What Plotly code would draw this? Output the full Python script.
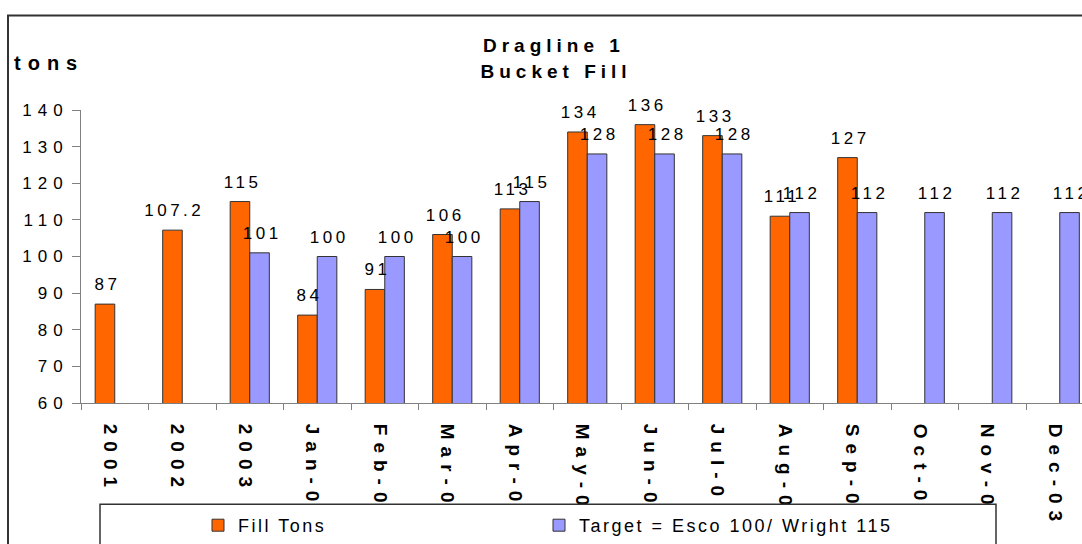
import plotly.graph_objects as go

# Dragline 1 bucket fill, annual averages then monthly values for 2003
categories = ["2001", "2002", "2003", "Jan-03", "Feb-03", "Mar-03", "Apr-03",
              "May-03", "Jun-03", "Jul-03", "Aug-03", "Sep-03", "Oct-03",
              "Nov-03", "Dec-03"]
fill_tons = [87, 107.2, 115, 84, 91, 106, 113, 134, 136, 133, 111, 127,
             None, None, None]
target = [None, None, 101, 100, 100, 100, 115, 128, 128, 128, 112, 112,
          112, 112, 112]
y_ticks = [60, 70, 80, 90, 100, 110, 120, 130, 140]

FONT = "Liberation Sans, Arial, sans-serif"
ORANGE = "#FF6600"
LAVENDER = "#9999FF"
OUTLINE = "#333333"

W, H = 1082, 544
L, R, T, B = 81, 0, 110, 136
PW, PH = W - L - R, H - T - B


def px_x(p):
    return (p - L) / PW


def px_y(p):
    return (H - B - p) / PH


fig = go.Figure()
fig.add_trace(go.Bar(name="Fill Tons", x=categories, y=fill_tons,
                     marker=dict(color=ORANGE, line=dict(color=OUTLINE, width=1))))
fig.add_trace(go.Bar(name="Target = Esco 100/ Wright 115", x=categories, y=target,
                     marker=dict(color=LAVENDER, line=dict(color=OUTLINE, width=1))))

# value labels above each bar (x given as category index)
annotations = []
half = 9.75
for series, dx in ((fill_tons, -half), (target, half)):
    for i, v in enumerate(series):
        if v is None:
            continue
        annotations.append(dict(x=i, y=v, xref="x", yref="y", text=f"{v:g}",
                                showarrow=False, xanchor="center", yanchor="bottom",
                                xshift=dx + 2, yshift=8,
                                font=dict(family=FONT, size=17, color="black")))

annotations += [
    dict(x=px_x(554), y=px_y(44), xref="paper", yref="paper", text="<b>Dragline 1</b>",
         showarrow=False, xanchor="center", yanchor="middle",
         font=dict(family=FONT, size=19, color="black")),
    dict(x=px_x(556), y=px_y(71), xref="paper", yref="paper", text="<b>Bucket Fill</b>",
         showarrow=False, xanchor="center", yanchor="middle",
         font=dict(family=FONT, size=19, color="black")),
    dict(x=px_x(49), y=px_y(62), xref="paper", yref="paper", text="<b>tons</b>",
         showarrow=False, xanchor="center", yanchor="middle",
         font=dict(family=FONT, size=20, color="black")),
]

shapes = [
    # chart frame
    dict(type="rect", xref="paper", yref="paper", x0=px_x(8), x1=px_x(1120),
         y0=px_y(14), y1=px_y(580), line=dict(color="#333333", width=2),
         fillcolor="rgba(0,0,0,0)", layer="below"),
    # legend box
    dict(type="rect", xref="paper", yref="paper", x0=px_x(100), x1=px_x(996),
         y0=px_y(511), y1=px_y(580), line=dict(color="#333333", width=1.5),
         fillcolor="white", layer="above"),
]

fig.update_layout(
    width=W, height=H,
    margin=dict(l=L, r=R, t=T, b=B, pad=0),
    paper_bgcolor="white", plot_bgcolor="white",
    barmode="group", bargap=0.42, bargroupgap=0,
    font=dict(family=FONT, size=16, color="black"),
    showlegend=True,
    legend=dict(orientation="h", x=px_x(198), y=px_y(514), xanchor="left",
                yanchor="top", bgcolor="rgba(0,0,0,0)", borderwidth=0,
                entrywidth=296, font=dict(family=FONT, size=18, color="black"),
                itemclick=False),
    annotations=annotations,
    shapes=shapes,
    xaxis=dict(type="category", range=[-0.5, -0.5 + PW / 67.5],
               tickvals=categories, ticktext=[f"<b>{c}</b>" for c in categories],
               showline=True, linecolor="#808080", linewidth=1,
               ticks="outside", tickson="boundaries", ticklen=6,
               tickcolor="#808080", tickangle=90, ticklabelstandoff=16,
               tickfont=dict(family=FONT, size=19, color="black"),
               showgrid=False, zeroline=False, fixedrange=True),
    yaxis=dict(range=[60, 140], tickvals=y_ticks, showline=True,
               linecolor="#808080", linewidth=1, ticks="outside", ticklen=8,
               tickcolor="#808080", tickfont=dict(family=FONT, size=17, color="black"),
               showgrid=False, zeroline=False, fixedrange=True),
)

# widen the letter spacing of the rendered labels
post = """
var gd = document.getElementById('{plot_id}');
function sp(sel, ls){ gd.querySelectorAll(sel).forEach(function(t){ t.style.letterSpacing = ls; }); }
sp('.xtick text', '7px');
sp('.ytick text', '6px');
sp('.annotation-text', '3.5px');
sp('.legendtext', '2.5px');
gd.querySelectorAll('g.xtick').forEach(function(g){
  var tr = g.getAttribute('transform') || '';
  g.setAttribute('transform', 'translate(-5,0) ' + tr);
});
gd.querySelectorAll('.legend .scrollbox').forEach(function(e){ e.removeAttribute('clip-path'); });
gd.querySelectorAll('.annotation-text').forEach(function(t){
  var s = t.textContent;
  if (s === 'Dragline 1' || s === 'Bucket Fill') { t.style.letterSpacing = '5px'; }
  if (s === 'tons') { t.style.letterSpacing = '7px'; }
});
"""

fig.write_html("out.html", config={"displayModeBar": False}, post_script=post)
